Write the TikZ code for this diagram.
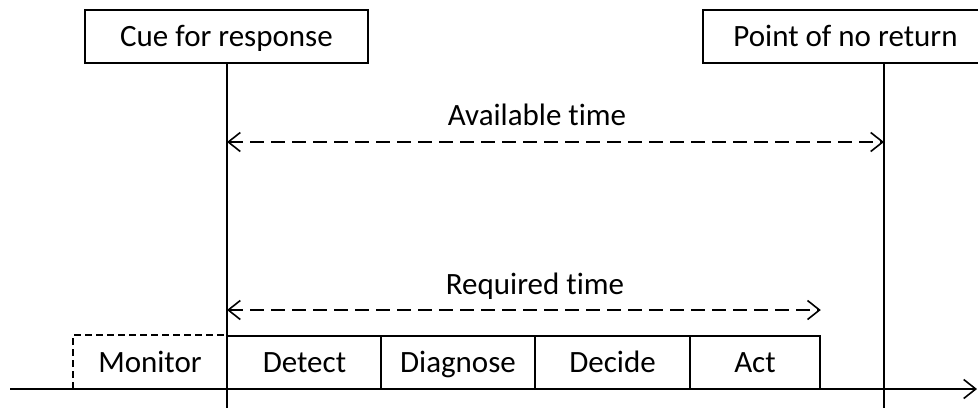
\documentclass[tikz,border=0pt]{standalone}
\usepackage{fontspec}
\setmainfont[Ligatures={NoCommon,NoDiscretionary,NoContextual}]{Carlito}
\usetikzlibrary{arrows.meta}
\begin{document}
\begin{tikzpicture}[x=1pt,y=-1pt,
  ln/.style={line width=1.6pt},
  box/.style={ln,draw,rectangle,inner sep=0pt,minimum height=53pt,text height=20pt,text depth=0pt,font=\fontsize{31}{36}\selectfont},
  lbl/.style={inner sep=0pt,text height=20pt,text depth=0pt,font=\fontsize{31}{36}\selectfont},
  dashline/.style={ln,dash pattern=on 14pt off 7pt},
  barb/.style={{Straight Barb[length=12pt,width=19pt,line width=1.6pt]}},
]
\useasboundingbox (0,0) rectangle (978,408);
% top boxes
\node[box,minimum width=283pt] (cue) at (226.5,36.5) {Cue for response};
\node[box,minimum width=285pt] (pnr) at (845.5,36.5) {Point of no return};
\coordinate (cueb) at (227,408);
\coordinate (pnrb) at (884,408);
\draw[ln] (cue.south -| cueb) -- (cueb);
\draw[ln] (pnr.south -| pnrb) -- (pnrb);
% bottom boxes
\node[box,minimum width=154pt] (detect) at (304.5,362.5) {Detect};
\node[box,minimum width=154pt] (diag) at (458,362.5) {Diagnose};
\node[box,minimum width=155pt] (decide) at (612.5,362.5) {Decide};
\node[box,minimum width=130pt] (act) at (755,362.5) {Act};
\node[lbl] (mon) at (150,362.5) {Monitor};
\coordinate (monl) at (73,389);
\draw[ln,dash pattern=on 7pt off 4pt] (monl) -- (monl |- detect.north) -- (detect.north west);
% axis
\coordinate (ax0) at (10,389);
\coordinate (ax1) at (977,389);
\draw[ln,-{Straight Barb[length=12pt,width=19pt,line width=1.6pt]}] (ax0) -- (ax1);
% arrows
\coordinate (a0) at (227,142);
\coordinate (a1) at (884,142);
\draw[dashline,{Straight Barb[length=12pt,width=19pt,line width=1.6pt]}-{Straight Barb[length=12pt,width=19pt,line width=1.6pt]}] (a0) -- (a1);
\node[lbl] (avail) at (537,115) {Available time};
\coordinate (r0) at (227,310);
\draw[dashline,{Straight Barb[length=12pt,width=19pt,line width=1.6pt]}-{Straight Barb[length=12pt,width=19pt,line width=1.6pt]}] (r0) -- (r0 -| act.east);
\node[lbl] (req) at (535,284) {Required time};
\end{tikzpicture}
\end{document}
